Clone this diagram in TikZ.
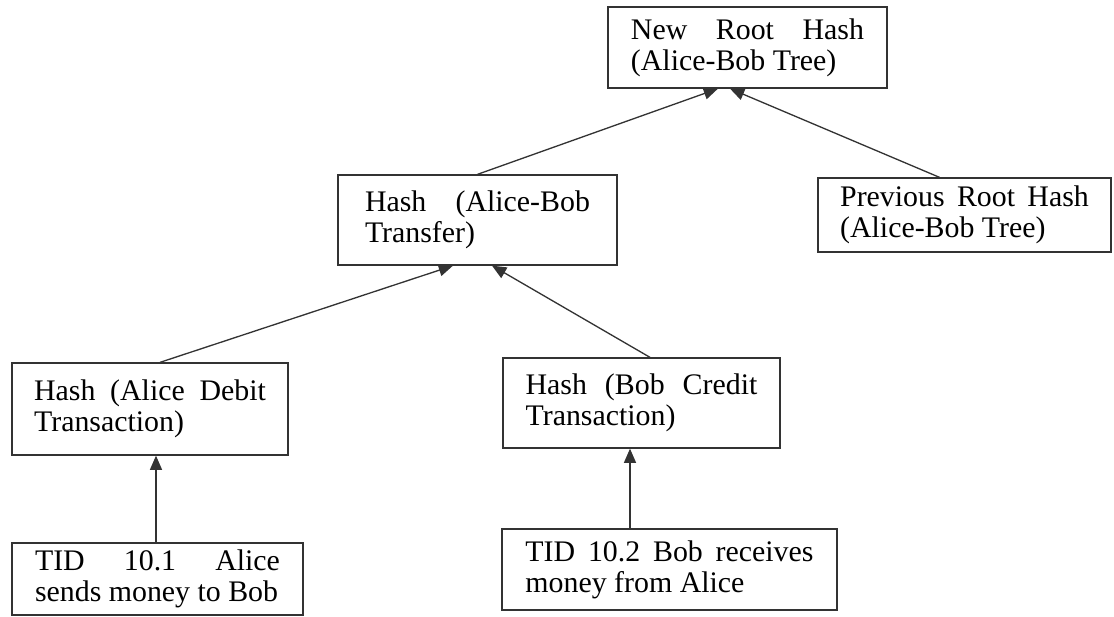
\documentclass[tikz,border=0pt]{standalone}
\usepackage{fontspec}
\setmainfont{Liberation Serif}
\usetikzlibrary{arrows.meta,calc}

\tikzset{
  hashbox/.style={draw=black!80, line width=0.6pt, inner sep=0pt,
    align=justify, font=\fontsize{13.6}{14}\selectfont},
  arr/.style={draw=black!80, line width=0.6pt, -{Triangle[length=6.5pt,width=5.5pt]}}
}

\begin{document}
\begin{tikzpicture}[x=0.016cm,y=-0.016cm]
  \useasboundingbox (0,0) rectangle (1114,617);
  % top level
  \node[hashbox, minimum width=4.464cm, minimum height=1.296cm, text width=3.73cm] (root) at (747.5,47.5) {New Root Hash (Alice-Bob Tree)};
  \node[hashbox, minimum width=4.464cm, minimum height=1.44cm, text width=3.6cm] (transfer) at (477.5,220) {Hash (Alice-Bob Transfer)};
  \node[hashbox, minimum width=4.69cm, minimum height=1.184cm, text width=3.98cm] (prev) at (964.5,215) {Previous Root Hash (Alice-Bob Tree)};
  % transaction hashes
  \node[hashbox, minimum width=4.416cm, minimum height=1.472cm, text width=3.71cm] (debit) at (150,409) {Hash (Alice Debit Transaction)};
  \node[hashbox, minimum width=4.432cm, minimum height=1.44cm, text width=3.71cm] (credit) at (641.5,403) {Hash (Bob Credit Transaction)};
  % transactions
  \node[hashbox, minimum width=4.656cm, minimum height=1.152cm, text width=3.92cm] (tid1) at (157.5,579) {TID 10.1 Alice\linebreak sends money to Bob};
  \node[hashbox, minimum width=5.36cm, minimum height=1.296cm, text width=4.61cm] (tid2) at (669.5,569.5) {TID 10.2 Bob receives money from Alice};

  \draw[arr] (transfer.north) -- ($(root.south)+(-29.5,0)$);
  \draw[arr] ($(prev.north)+(-25,0)$) -- ($(root.south)+(-17.5,0)$);
  \draw[arr] ($(debit.north)+(10,0)$) -- ($(transfer.south)+(-24.5,0)$);
  \draw[arr] ($(credit.north)+(8.5,0)$) -- ($(transfer.south)+(14.5,0)$);
  \draw[arr] ($(tid1.north)+(-1.5,0)$) -- ($(debit.south)+(6,0)$);
  \draw[arr] ($(tid2.north)+(-39.5,0)$) -- ($(credit.south)+(-11.5,0)$);
\end{tikzpicture}
\end{document}
